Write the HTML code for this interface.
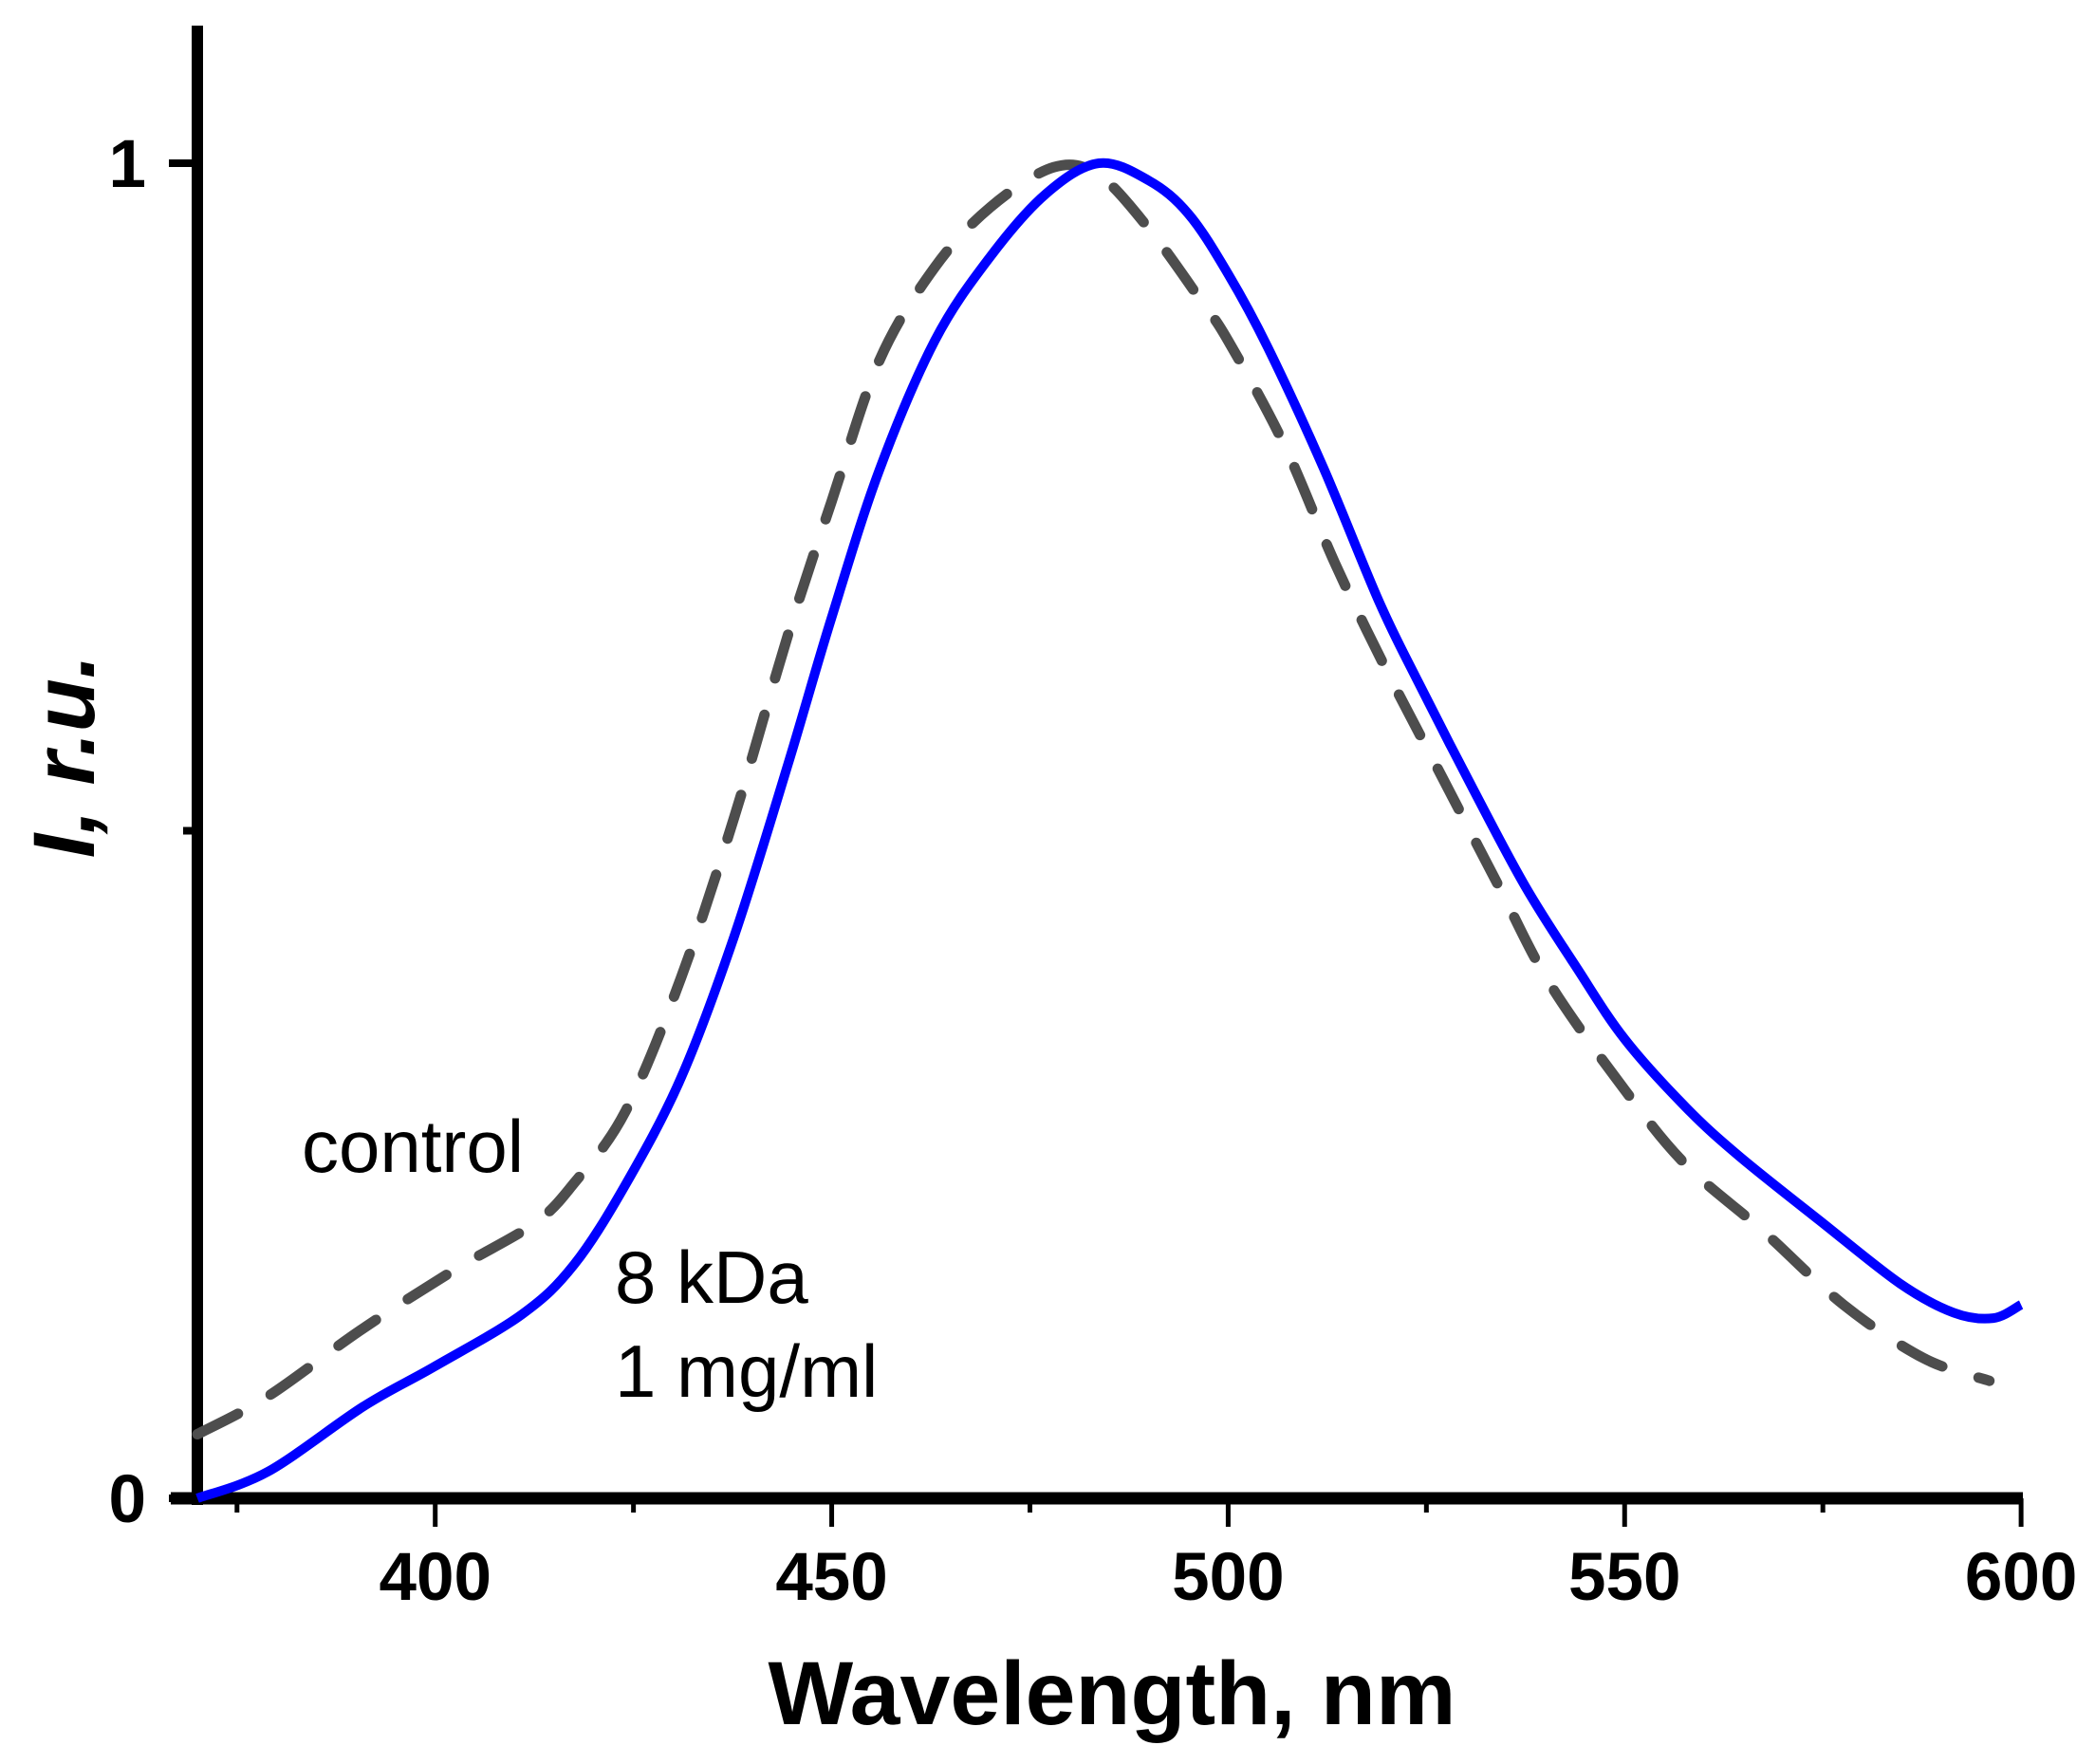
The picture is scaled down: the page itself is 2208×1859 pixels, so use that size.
<!DOCTYPE html>
<html><head><meta charset="utf-8"><style>
html,body{margin:0;padding:0;background:#fff;}
svg{display:block;font-family:"Liberation Sans",Arial,sans-serif;}
</style></head><body>
<svg id="chart" width="2208" height="1859" viewBox="0 0 2208 1859" xmlns="http://www.w3.org/2000/svg">
<g id="axes"></g>
<g id="series"></g>
<text x="1172" y="1817" font-size="95" font-weight="bold" text-anchor="middle">Wavelength, nm</text>
<text transform="translate(99,797) rotate(-90)" font-size="92" font-weight="bold" font-style="italic" text-anchor="middle">I, r.u.</text>
<text x="318" y="1235" font-size="78">control</text>
<text x="648" y="1373" font-size="78">8 kDa</text>
<text x="648" y="1472" font-size="78">1 mg/ml</text>
</svg>
<script>
const xTicks = [400, 450, 500, 550, 600];
const xMinorTicks = [375, 425, 475, 525, 575];
const yTicks = [0, 1];
const yMinorTicks = [0.5];
const blueX = [370,378.9,391,400,411,417.5,424,431,437.7,444.5,450,456,463,470,477,483.7,490,495,500,505,512,519,524,531,537.5,544,550,557.7,564.5,574.6,584.7,591.5,596.5,600];
const blueY = [0,0.02,0.069,0.099,0.138,0.175,0.235,0.315,0.421,0.55,0.66,0.77,0.867,0.93,0.977,1.0,0.987,0.962,0.917,0.862,0.772,0.672,0.611,0.53,0.458,0.397,0.344,0.293,0.256,0.208,0.161,0.139,0.135,0.145];
const ctrlX = [370,378.8,390.6,402.4,412.5,417.5,424,431,437.7,444.5,450,456,463,470,478,483.7,490,496.7,500,507,513.5,520,527,534,540.5,550,557.7,567.5,577.6,587.7,596];
const ctrlY = [0.048,0.076,0.126,0.171,0.206,0.236,0.29,0.39,0.51,0.647,0.747,0.852,0.922,0.967,0.997,0.991,0.951,0.896,0.867,0.79,0.70,0.62,0.54,0.46,0.386,0.306,0.25,0.2,0.145,0.105,0.088];

const NS = "http://www.w3.org/2000/svg";
function xs(v){ return 208 + (v - 370) * 8.357; }
function ys(v){ return 1579 - v * 1407; }
function mk(tag, attrs, parent){
  const e = document.createElementNS(NS, tag);
  for (const k in attrs) e.setAttribute(k, attrs[k]);
  parent.appendChild(e);
  return e;
}
const axes = document.getElementById('axes');
const series = document.getElementById('series');

let yAxis = mk('line', {x1:208, y1:27, x2:208, y2:1586, stroke:'#000', 'stroke-width':12}, axes);


let xAxis = mk('line', {x1:180, y1:1579, x2:2132, y2:1579, stroke:'#000', 'stroke-width':13}, axes);



xTicks.forEach(t => {
  const tk = mk('line', {x1:xs(t), y1:1579, x2:xs(t), y2:1609, stroke:'#000', 'stroke-width':5}, axes);
  
  
  const lb = mk('text', {x:xs(t), y:1686, 'font-size':71, 'font-weight':'bold', 'text-anchor':'middle'}, axes);
  lb.textContent = t;
  
  
});
xMinorTicks.forEach(t => {
  const tk = mk('line', {x1:xs(t), y1:1579, x2:xs(t), y2:1594, stroke:'#000', 'stroke-width':5}, axes);
  
  
});
yTicks.forEach(t => {
  const tk = mk('line', {x1:178, y1:ys(t), x2:208, y2:ys(t), stroke:'#000', 'stroke-width':8}, axes);
  
  
  const lb = mk('text', {x:154, y:ys(t) + 25, 'font-size':71, 'font-weight':'bold', 'text-anchor':'end'}, axes);
  lb.textContent = t;
  
  
});
yMinorTicks.forEach(t => {
  const tk = mk('line', {x1:193, y1:ys(t), x2:208, y2:ys(t), stroke:'#000', 'stroke-width':8}, axes);
  
  
});

function pathD(X, Y){
  const P = X.map((x, i) => [xs(x), ys(Y[i])]);
  let d = 'M' + P[0][0].toFixed(1) + ' ' + P[0][1].toFixed(1);
  for (let i = 0; i < P.length - 1; i++) {
    const p0 = P[Math.max(0, i - 1)], p1 = P[i], p2 = P[i + 1], p3 = P[Math.min(P.length - 1, i + 2)];
    const c1 = [p1[0] + (p2[0] - p0[0]) / 6, p1[1] + (p2[1] - p0[1]) / 6];
    const c2 = [p2[0] - (p3[0] - p1[0]) / 6, p2[1] - (p3[1] - p1[1]) / 6];
    d += ' C' + c1[0].toFixed(1) + ' ' + c1[1].toFixed(1) + ' ' + c2[0].toFixed(1) + ' ' + c2[1].toFixed(1) + ' ' + p2[0].toFixed(1) + ' ' + p2[1].toFixed(1);
  }
  return d;
}
const ctrl = mk('path', {d:pathD(ctrlX, ctrlY), fill:'none', stroke:'#4d4d4d', 'stroke-width':11, 'stroke-dasharray':'48 40', 'stroke-linecap':'round', 'stroke-linejoin':'round'}, series);


const blue = mk('path', {d:pathD(blueX, blueY), fill:'none', stroke:'#0000ff', 'stroke-width':10, 'stroke-linejoin':'round'}, series);


</script>
</body></html>
